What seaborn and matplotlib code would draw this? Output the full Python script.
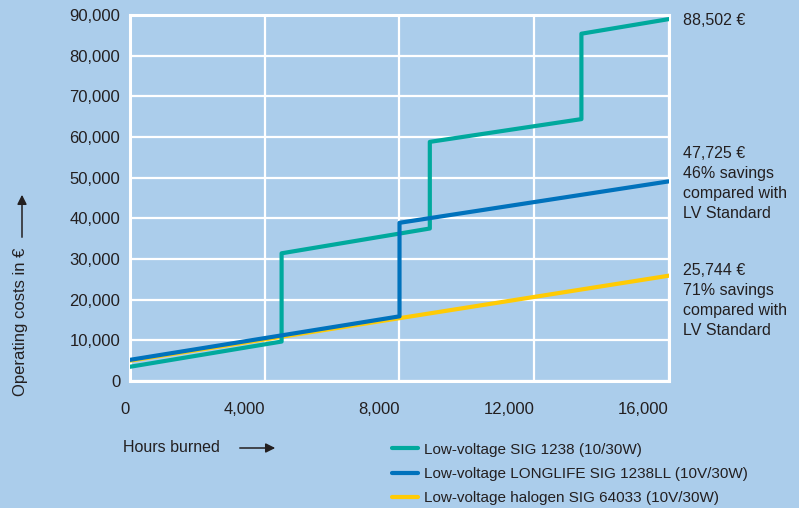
import pandas as pd
import numpy as np
import matplotlib.pyplot as plt
import seaborn as sns
from matplotlib.lines import Line2D

# values
green_hours = [0, 4500, 4500, 8900, 8900, 13400, 13400, 16000]
green_cost = [3500, 9700, 31400, 37500, 58800, 64400, 85400, 89000]
blue_hours = [0, 8000, 8000, 16000]
blue_cost = [5200, 15900, 38900, 49100]
yellow_hours = [0, 16000]
yellow_cost = [5000, 25900]

labels = ["Low-voltage SIG 1238 (10/30W)",
          "Low-voltage LONGLIFE SIG 1238LL (10V/30W)",
          "Low-voltage halogen SIG 64033 (10V/30W)"]
x_ticks = [0, 4000, 8000, 12000, 16000]
y_ticks = list(range(0, 90001, 10000))
end_notes = ["88,502 €",
             "47,725 €\n46% savings\ncompared with\nLV Standard",
             "25,744 €\n71% savings\ncompared with\nLV Standard"]

bg = "#abcdeb"
txt = "#231f20"
c_green = "#00a99d"
c_blue = "#0072bc"
c_yellow = "#ffcb05"

sns.set_style("white")
plt.rcParams['font.family'] = ['Liberation Sans', 'DejaVu Sans']
plt.rcParams['text.color'] = txt

fig = plt.figure(figsize=(7.99, 5.08), dpi=100, facecolor=bg)
W, H = 799, 508
ax = fig.add_axes([130 / W, 1 - 381 / H, (669 - 130) / W, (381 - 15) / H])
ax.set_facecolor(bg)

df_y = pd.DataFrame({"hours": yellow_hours, "cost": yellow_cost})
df_g = pd.DataFrame({"hours": green_hours, "cost": green_cost})
df_b = pd.DataFrame({"hours": blue_hours, "cost": blue_cost})

sns.lineplot(data=df_y, x="hours", y="cost", estimator=None, sort=False,
             color=c_yellow, lw=3, ax=ax, zorder=3)
sns.lineplot(data=df_g, x="hours", y="cost", estimator=None, sort=False,
             color=c_green, lw=3, ax=ax, zorder=4)
sns.lineplot(data=df_b, x="hours", y="cost", estimator=None, sort=False,
             color=c_blue, lw=3, ax=ax, zorder=5)

ax.set_xlim(0, 16000)
ax.set_ylim(0, 90000)
ax.set_xticks(x_ticks)
ax.set_xticklabels([f"{v:,}" for v in x_ticks], ha="right")
ax.set_yticks(y_ticks)
ax.set_yticklabels([f"{v:,}" for v in y_ticks])
ax.tick_params(axis="x", length=0, pad=15, labelsize=12, labelcolor=txt)
ax.tick_params(axis="y", length=0, pad=7, labelsize=12, labelcolor=txt)
ax.grid(True, color="white", lw=1.6)
ax.set_axisbelow(True)
for s in ax.spines.values():
    s.set_color("white")
    s.set_linewidth(2.2)
ax.set_xlabel("")
ax.set_ylabel("")

# right-hand notes
note_y = [20, 153, 270]
for note, yy in zip(end_notes, note_y):
    fig.text(683 / W, 1 - (yy - 7) / H, note, fontsize=11.5, va="top",
             ha="left", linespacing=1.42, color=txt)

# axis titles with arrows
fig.text(123 / W, 1 - 448 / H, "Hours burned", fontsize=11.5, va="center",
         ha="left", color=txt)
fig.text(21 / W, 1 - 396 / H, "Operating costs in €", fontsize=12,
         rotation=90, va="bottom", ha="center", color=txt)
arrow = dict(arrowstyle="-|>", color=txt, lw=1.1, mutation_scale=14)
fig.add_artist(plt.Annotation("", xy=(278 / W, 1 - 448 / H),
                              xytext=(237 / W, 1 - 448 / H),
                              xycoords="figure fraction",
                              textcoords="figure fraction", arrowprops=arrow))
fig.add_artist(plt.Annotation("", xy=(22 / W, 1 - 192 / H),
                              xytext=(22 / W, 1 - 240 / H),
                              xycoords="figure fraction",
                              textcoords="figure fraction", arrowprops=arrow))

# legend
handles = [Line2D([], [], color=c, lw=3) for c in (c_green, c_blue, c_yellow)]
fig.legend(handles, labels, loc="upper left",
           bbox_to_anchor=(384 / W, 1 - 435 / H), frameon=False,
           fontsize=11, handlelength=1.7, handletextpad=0.45,
           labelspacing=0.68, borderpad=0, labelcolor=txt)

fig.savefig("out.png", dpi=100, facecolor=bg)
